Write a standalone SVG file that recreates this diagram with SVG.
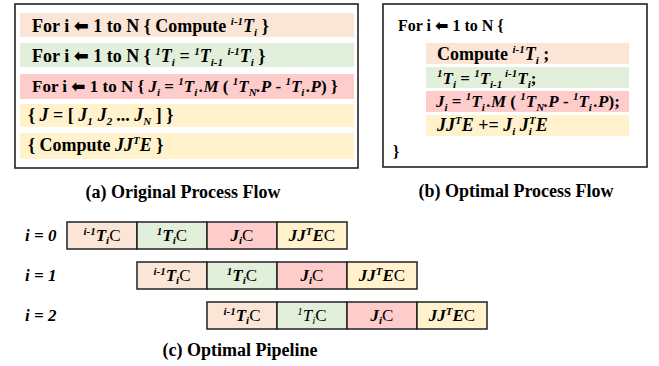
<svg xmlns="http://www.w3.org/2000/svg" width="659" height="366" viewBox="0 0 659 366">
<style>
.t{font-family:"Liberation Serif","Times New Roman",serif;font-weight:bold;font-size:18px;fill:#000}
.frame{fill:#fff;stroke:#222;stroke-width:1.6}
.pe{fill:#FBE5D6}.gr{fill:#E2EFDA}.rd{fill:#FFCCCC}.ye{fill:#FFF2CC}
.cell{stroke:#222;stroke-width:1.5}
.cap{font-family:"Liberation Serif","Times New Roman",serif;font-weight:bold;font-size:18px;text-anchor:middle}
.ct{font-family:"Liberation Serif","Times New Roman",serif;font-size:17px;text-anchor:middle}
.lb{font-family:"Liberation Serif","Times New Roman",serif;font-size:17px;font-weight:bold;font-style:italic}
.i{font-style:italic}
.s{font-size:11px}
.arr{font-family:"DejaVu Sans",sans-serif;font-weight:bold;font-size:18px}
</style>
<rect width="659" height="366" fill="#fff"/>
<g id="original-flow">
<rect class="frame" x="15" y="4" width="343" height="164"/>
<rect class="pe" x="20" y="13" width="334" height="24"/>
<rect class="gr" x="20" y="43" width="334" height="24"/>
<rect class="rd" x="20" y="74" width="334" height="25"/>
<rect class="ye" x="20" y="104" width="334" height="23"/>
<rect class="ye" x="20" y="133" width="334" height="26"/>
<text class="t" x="32" y="32">For i <tspan class="arr">⬅</tspan> 1 to N { Compute <tspan class="i s" dy="-7">i-1</tspan><tspan class="i" dy="7">T</tspan><tspan class="i s" dy="4">i</tspan><tspan dy="-4"> }</tspan></text>
<text class="t" x="32" y="62">For i <tspan class="arr">⬅</tspan> 1 to N { <tspan class="i s" dy="-7">1</tspan><tspan class="i" dy="7">T</tspan><tspan class="i s" dy="4">i</tspan><tspan dy="-4"> = </tspan><tspan class="i s" dy="-7">1</tspan><tspan class="i" dy="7">T</tspan><tspan class="i s" dy="4">i-1</tspan><tspan dy="-4"> </tspan><tspan class="i s" dy="-7">i-1</tspan><tspan class="i" dy="7">T</tspan><tspan class="i s" dy="4">i</tspan><tspan dy="-4"> }</tspan></text>
<text class="t" x="32" y="92" style="font-size:17px">For i <tspan class="arr" style="font-size:17px">⬅</tspan> 1 to N { <tspan class="i">J</tspan><tspan class="i s" dy="4">i</tspan><tspan dy="-4"> = </tspan><tspan class="i s" dy="-7">1</tspan><tspan class="i" dy="7">T</tspan><tspan class="i s" dy="4">i</tspan><tspan class="i" dy="-4" dx="2">.M</tspan> ( <tspan class="i s" dy="-7">1</tspan><tspan class="i" dy="7">T</tspan><tspan class="i s" dy="4">N</tspan><tspan class="i" dy="-4">.P</tspan> - <tspan class="i s" dy="-7">1</tspan><tspan class="i" dy="7">T</tspan><tspan class="i s" dy="4">i</tspan><tspan class="i" dy="-4" dx="2">.P</tspan>)  }</text>
<text class="t" x="28" y="121">{ <tspan class="i">J</tspan> = [ <tspan class="i">J</tspan><tspan class="i s" dy="4">1</tspan><tspan class="i" dy="-4" dx="5">J</tspan><tspan class="i s" dy="4">2</tspan><tspan dy="-4" dx="4">... </tspan><tspan class="i">J</tspan><tspan class="i s" dy="4">N</tspan><tspan dy="-4"> ] }</tspan></text>
<text class="t" x="28" y="151">{ Compute <tspan class="i">JJ</tspan><tspan class="i s" dy="-7">T</tspan><tspan class="i" dy="7">E</tspan> }</text>
</g>
<g id="optimal-flow">
<rect class="frame" x="383" y="4" width="264" height="163"/>
<rect class="pe" x="426" y="43" width="203" height="21"/>
<rect class="gr" x="426" y="67" width="203" height="21"/>
<rect class="rd" x="426" y="91" width="203" height="21"/>
<rect class="ye" x="426" y="115" width="203" height="21"/>
<text class="t" x="398" y="31" style="font-size:16px">For i <tspan class="arr" style="font-size:16px">⬅</tspan> 1 to N {</text>
<text class="t" x="437" y="60">Compute <tspan class="i s" dy="-7">i-1</tspan><tspan class="i" dy="7">T</tspan><tspan class="i s" dy="4">i</tspan><tspan dy="-4"> ;</tspan></text>
<text class="t" x="437" y="84" style="font-size:17px"><tspan class="i s" dy="-7">1</tspan><tspan class="i" dy="7">T</tspan><tspan class="i s" dy="4">i</tspan><tspan dy="-4"> = </tspan><tspan class="i s" dy="-7">1</tspan><tspan class="i" dy="7">T</tspan><tspan class="i s" dy="4">i-1 </tspan><tspan class="i s" dy="-11">i-1</tspan><tspan class="i" dy="7">T</tspan><tspan class="i s" dy="4">i</tspan><tspan dy="-4">;</tspan></text>
<text class="t" x="436" y="107" style="font-size:17px"><tspan class="i">J</tspan><tspan class="i s" dy="4">i</tspan><tspan dy="-4"> = </tspan><tspan class="i s" dy="-7">1</tspan><tspan class="i" dy="7">T</tspan><tspan class="i s" dy="4">i</tspan><tspan class="i" dy="-4" dx="2">.M</tspan> ( <tspan class="i s" dy="-7">1</tspan><tspan class="i" dy="7">T</tspan><tspan class="i s" dy="4">N</tspan><tspan class="i" dy="-4">.P</tspan> - <tspan class="i s" dy="-7">1</tspan><tspan class="i" dy="7">T</tspan><tspan class="i s" dy="4">i</tspan><tspan class="i" dy="-4" dx="2">.P</tspan>);</text>
<text class="t" x="437" y="131"><tspan class="i">JJ</tspan><tspan class="i s" dy="-7">T</tspan><tspan class="i" dy="7">E</tspan> += <tspan class="i">J</tspan><tspan class="i s" dy="4">i</tspan><tspan class="i" dy="-4"> J</tspan><tspan class="i s" dy="4">i</tspan><tspan class="i s" dy="-11" dx="-3">T</tspan><tspan class="i" dy="7">E</tspan></text>
<text class="t" x="393" y="157" style="font-size:16px">}</text>
</g>
<g id="captions">
<text class="cap" x="183" y="198">(a) Original Process Flow</text>
<text class="cap" x="516" y="197">(b) Optimal Process Flow</text>
<text class="cap" x="240" y="356">(c) Optimal Pipeline</text>
</g>
<g id="pipeline-i0">
<text class="lb" x="25" y="241">i = 0</text>
<rect class="cell pe" x="67" y="222" width="70" height="27"/>
<rect class="cell gr" x="137" y="222" width="70" height="27"/>
<rect class="cell rd" x="207" y="222" width="70" height="27"/>
<rect class="cell ye" x="277" y="222" width="70" height="27"/>
<text class="ct" x="102" y="241"><tspan class="lb s" dy="-6">i-1</tspan><tspan class="lb" dy="6">T</tspan><tspan class="lb s" dy="3">i</tspan><tspan dy="-3">C</tspan></text>
<text class="ct" x="172" y="241"><tspan class="lb s" dy="-6">1</tspan><tspan class="lb" dy="6">T</tspan><tspan class="lb s" dy="3">i</tspan><tspan dy="-3">C</tspan></text>
<text class="ct" x="242" y="241"><tspan class="lb">J</tspan><tspan class="lb s" dy="3">i</tspan><tspan dy="-3">C</tspan></text>
<text class="ct" x="312" y="241"><tspan class="lb">JJ</tspan><tspan class="lb s" dy="-6">T</tspan><tspan class="lb" dy="6">E</tspan>C</text>
</g>
<g id="pipeline-i1">
<text class="lb" x="25" y="281">i = 1</text>
<rect class="cell pe" x="137" y="262" width="70" height="27"/>
<rect class="cell gr" x="207" y="262" width="70" height="27"/>
<rect class="cell rd" x="277" y="262" width="70" height="27"/>
<rect class="cell ye" x="347" y="262" width="70" height="27"/>
<text class="ct" x="172" y="281"><tspan class="lb s" dy="-6">i-1</tspan><tspan class="lb" dy="6">T</tspan><tspan class="lb s" dy="3">i</tspan><tspan dy="-3">C</tspan></text>
<text class="ct" x="242" y="281"><tspan class="lb s" dy="-6">1</tspan><tspan class="lb" dy="6">T</tspan><tspan class="lb s" dy="3">i</tspan><tspan dy="-3">C</tspan></text>
<text class="ct" x="312" y="281"><tspan class="lb">J</tspan><tspan class="lb s" dy="3">i</tspan><tspan dy="-3">C</tspan></text>
<text class="ct" x="382" y="281"><tspan class="lb">JJ</tspan><tspan class="lb s" dy="-6">T</tspan><tspan class="lb" dy="6">E</tspan>C</text>
</g>
<g id="pipeline-i2">
<text class="lb" x="25" y="321">i = 2</text>
<rect class="cell pe" x="207" y="302" width="70" height="27"/>
<rect class="cell gr" x="277" y="302" width="70" height="27"/>
<rect class="cell rd" x="347" y="302" width="70" height="27"/>
<rect class="cell ye" x="417" y="302" width="70" height="27"/>
<text class="ct" x="242" y="321"><tspan class="lb s" dy="-6">i-1</tspan><tspan class="lb" dy="6">T</tspan><tspan class="lb s" dy="3">i</tspan><tspan dy="-3">C</tspan></text>
<text class="ct" x="312" y="321"><tspan class="i s" dy="-6">1</tspan><tspan class="i" dy="6">T</tspan><tspan class="i s" dy="3">i</tspan><tspan dy="-3">C</tspan></text>
<text class="ct" x="382" y="321"><tspan class="lb">J</tspan><tspan class="lb s" dy="3">i</tspan><tspan dy="-3">C</tspan></text>
<text class="ct" x="452" y="321"><tspan class="lb">JJ</tspan><tspan class="lb s" dy="-6">T</tspan><tspan class="lb" dy="6">E</tspan>C</text>
</g>
</svg>
